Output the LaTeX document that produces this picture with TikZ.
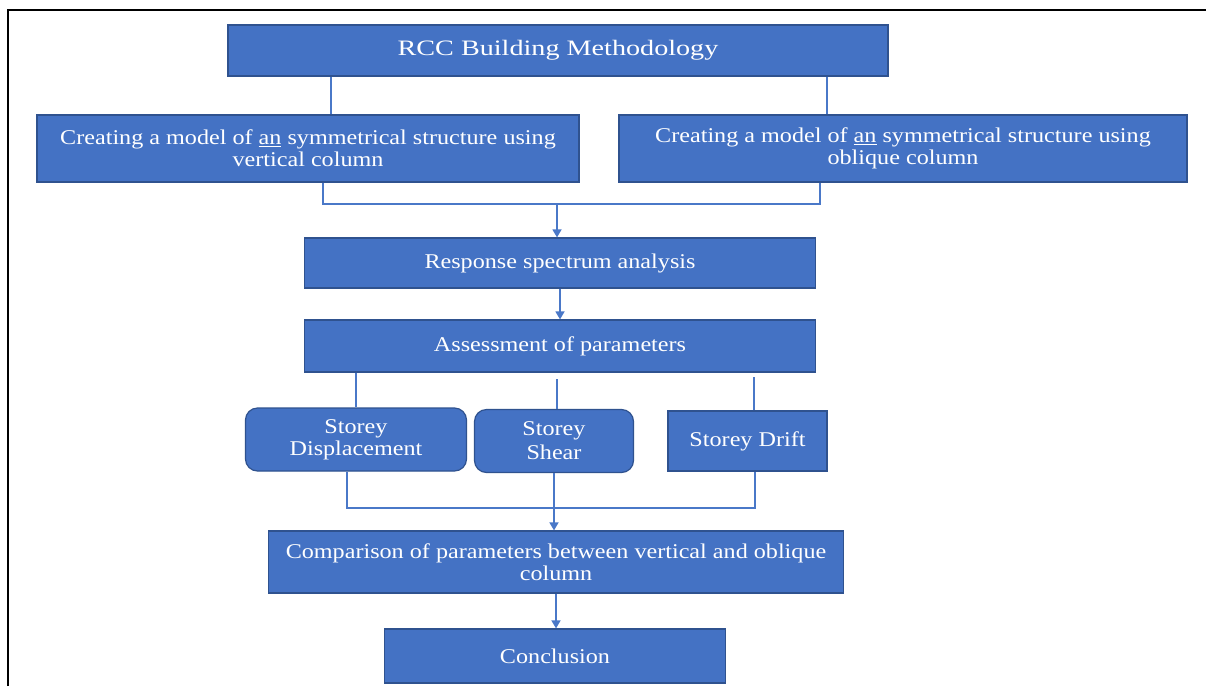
\documentclass[tikz,border=0pt]{standalone}
\usepackage{fontspec}
\setmainfont{Liberation Serif}[FakeStretch=1.15]
\newfontfamily\titlefont{Liberation Serif}[FakeStretch=1.28]
\usetikzlibrary{arrows.meta}
\definecolor{boxfill}{HTML}{4472C4}
\definecolor{boxedge}{HTML}{2F528F}
\definecolor{linkblue}{HTML}{4A78C8}

\begin{document}
\begin{tikzpicture}[x=1pt,y=-1pt,
  box/.style={draw=boxedge, line width=1.2pt, fill=boxfill, text=white,
              inner sep=0pt, align=center, font=\fontsize{21}{22}\selectfont},
  roundbox/.style={box, rounded corners=12pt},
  link/.style={draw=linkblue, line width=1.5pt},
  flow/.style={link, -{Triangle[width=9pt,length=8pt]}}]

\useasboundingbox (0,0) rectangle (1206,686);
\fill[white] (0,0) rectangle (1206,686);

% page frame
\draw[line width=2.5pt] (8,686) -- (8,10) -- (1206,10);

% boxes
\node[box, minimum width=660pt, minimum height=51pt,
      font=\titlefont\fontsize{22}{24}\selectfont] (title) at (558,50.5)
  {\raisebox{-2pt}{RCC Building Methodology}};
\node[box, minimum width=542pt, minimum height=67pt] (lft) at (308,148.5)
  {Creating a model of \underline{an} symmetrical structure using\\vertical column};
\node[box, minimum width=568pt, minimum height=67pt] (rgt) at (903,148.5)
  {Creating a model of \underline{an} symmetrical structure using\\oblique column};
\node[box, minimum width=511pt, minimum height=50pt] (resp) at (560,263)
  {Response spectrum analysis};
\node[box, minimum width=511pt, minimum height=52pt] (assess) at (560,346)
  {Assessment of parameters};
\node[roundbox, minimum width=221pt, minimum height=63pt] (disp) at (356,439.5)
  {Storey\\Displacement};
\node[roundbox, minimum width=159pt, minimum height=63pt,
      font=\fontsize{21}{24}\selectfont] (shear) at (554,441)
  {Storey\\Shear};
\node[box, minimum width=159pt, minimum height=60pt] (drift) at (747.5,441)
  {Storey Drift};
\node[box, minimum width=575pt, minimum height=62pt] (comp) at (556,562)
  {Comparison of parameters between vertical and oblique\\column};
\node[box, minimum width=341pt, minimum height=54pt] (concl) at (555,656)
  {Conclusion};

% connectors
\draw[link] ([xshift=-227pt]title.south) -- ([xshift=23pt]lft.north);
\draw[link] ([xshift=269pt]title.south) -- ([xshift=-76pt]rgt.north);
\coordinate (j1) at (557,204);
\draw[link] ([xshift=15pt]lft.south) |- (j1) -| ([xshift=-83pt]rgt.south);
\draw[flow] (j1) -- (j1 |- resp.north);
\draw[flow] (resp.south) -- (assess.north);

\draw[link] (assess.south -| disp.north) -- (disp.north);
\draw[link] ([xshift=3pt]shear.north) -- ++(0,-30);
\draw[link] ([xshift=6.5pt]drift.north) -- ++(0,-33);

\coordinate (j2) at (555,508);
\draw[link] ([xshift=-9pt]disp.south) |- (j2) -| ([xshift=7.5pt]drift.south);
\draw[flow] (shear.south) -- (shear.south |- comp.north);
\draw[flow] (comp.south) -- (comp.south |- concl.north);
\end{tikzpicture}
\end{document}
